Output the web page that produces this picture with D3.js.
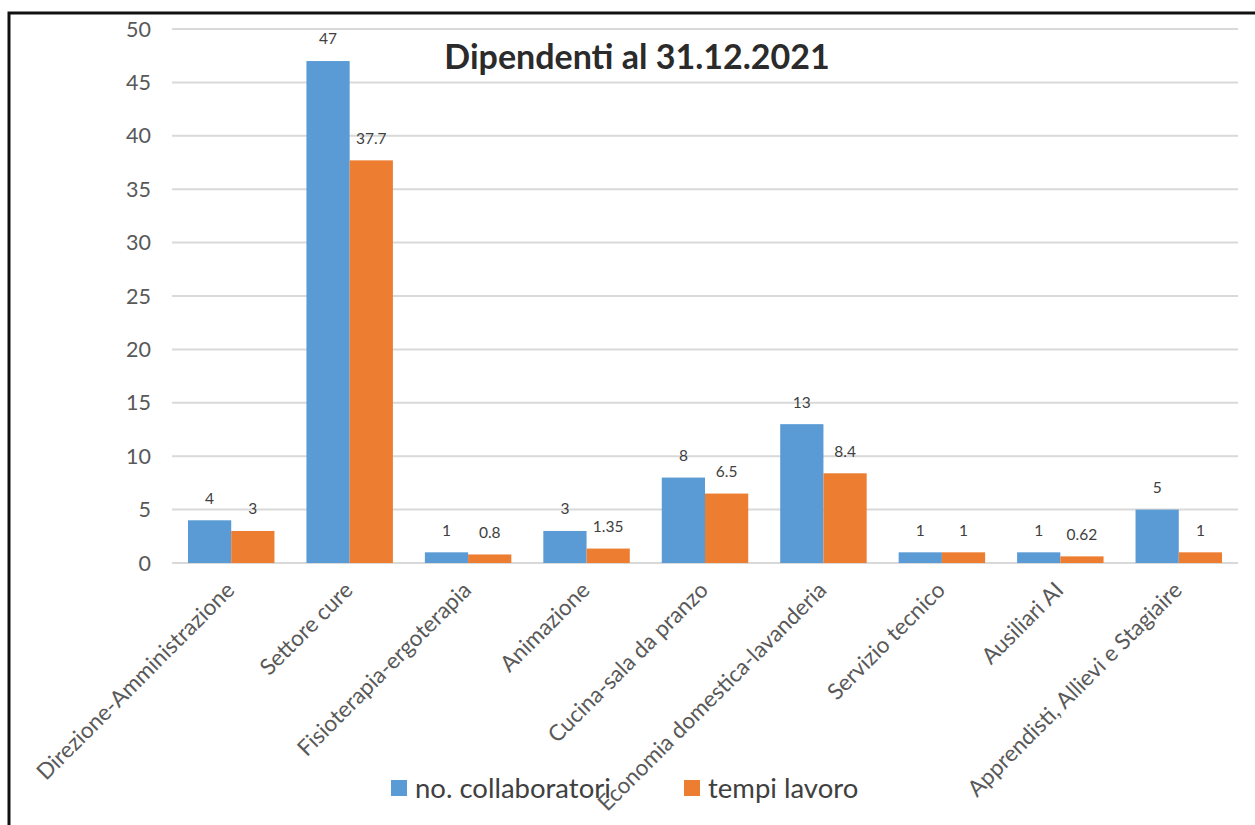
<!DOCTYPE html>
<html>
<head>
<meta charset="utf-8">
<script src="https://cdn.jsdelivr.net/npm/d3@7"></script>
<style>
  body { margin: 0; background: #fff; }
  svg { display: block; font-family: Lato, "Open Sans", sans-serif; }
</style>
</head>
<body>
<svg id="chart" width="1255" height="825"></svg>
<script>
// data
const categories = [
    "Direzione-Amministrazione",
    "Settore cure",
    "Fisioterapia-ergoterapia",
    "Animazione",
    "Cucina-sala da pranzo",
    "Economia domestica-lavanderia",
    "Servizio tecnico",
    "Ausiliari AI",
    "Apprendisti, Allievi e Stagiaire"
];
const collaboratori = [4, 47, 1, 3, 8, 13, 1, 1, 5];
const tempiLavoro = [3, 37.7, 0.8, 1.35, 6.5, 8.4, 1, 0.62, 1];
const seriesNames = ["no. collaboratori", "tempi lavoro"];
const yTicks = [0, 5, 10, 15, 20, 25, 30, 35, 40, 45, 50];

const colors = ["#5B9BD5", "#ED7D31"];

const svg = d3.select("#chart");

// outer frame (right and bottom edges fall outside the picture)
svg.append("rect")
    .attr("x", 9).attr("y", 13)
    .attr("width", 1400).attr("height", 1000)
    .attr("fill", "#fff")
    .attr("stroke", "#111").attr("stroke-width", 3);

const plot = { left: 172, right: 1238, top: 29, bottom: 563 };

const x = d3.scaleBand()
    .domain(categories)
    .range([plot.left, plot.right])
    .paddingInner(0.27)
    .paddingOuter(0.135);

const xs = d3.scaleBand()
    .domain([0, 1])
    .range([0, x.bandwidth()]);

const y = d3.scaleLinear()
    .domain([0, 50])
    .range([plot.bottom, plot.top]);

// gridlines
svg.append("g")
    .selectAll("line")
    .data(yTicks)
    .join("line")
    .attr("x1", plot.left).attr("x2", plot.right)
    .attr("y1", d => y(d)).attr("y2", d => y(d))
    .attr("stroke", "#d9d9d9").attr("stroke-width", 2);

// y tick labels
svg.append("g")
    .selectAll("text")
    .data(yTicks)
    .join("text")
    .attr("x", 151)
    .attr("y", d => y(d))
    .attr("dy", "0.35em")
    .attr("text-anchor", "end")
    .attr("font-size", 21.5)
    .attr("fill", "#595959")
    .text(d => d);

const rows = categories.map((c, i) => ({ cat: c, vals: [collaboratori[i], tempiLavoro[i]] }));

const groups = svg.append("g")
    .selectAll("g")
    .data(rows)
    .join("g")
    .attr("transform", d => `translate(${x(d.cat)},0)`);

groups.selectAll("rect")
    .data(d => d.vals)
    .join("rect")
    .attr("x", (d, i) => xs(i))
    .attr("width", xs.bandwidth())
    .attr("y", d => y(d))
    .attr("height", d => y(0) - y(d))
    .attr("fill", (d, i) => colors[i]);

groups.selectAll("text")
    .data(d => d.vals)
    .join("text")
    .attr("x", (d, i) => xs(i) + xs.bandwidth() / 2)
    .attr("y", d => y(d) - 22)
    .attr("dy", "0.35em")
    .attr("text-anchor", "middle")
    .attr("font-size", 15.5)
    .attr("fill", "#404040")
    .text(d => d);

// category labels, rotated
svg.append("g")
    .selectAll("text")
    .data(categories)
    .join("text")
    .attr("transform", d => `translate(${x(d) + x.bandwidth() / 2 - 1},586) rotate(-45)`)
    .attr("dy", "0.35em")
    .attr("text-anchor", "end")
    .attr("font-size", 22.5)
    .attr("fill", "#595959")
    .text(d => d);

// title
svg.append("text")
    .attr("x", 637).attr("y", 57)
    .attr("dy", "0.35em")
    .attr("text-anchor", "middle")
    .attr("font-size", 34)
    .attr("font-weight", "bold")
    .attr("fill", "#2b2b2b")
    .text("Dipendenti al 31.12.2021");

// legend
const legendX = [391, 684];
const legend = svg.append("g")
    .selectAll("g")
    .data(seriesNames)
    .join("g")
    .attr("transform", (d, i) => `translate(${legendX[i]},788)`);

legend.append("rect")
    .attr("x", 0).attr("y", -8)
    .attr("width", 16).attr("height", 16)
    .attr("fill", (d, i) => colors[i]);

legend.append("text")
    .attr("x", 24)
    .attr("dy", "0.35em")
    .attr("font-size", 27.5)
    .attr("fill", "#404040")
    .text(d => d);
</script>
</body>
</html>
